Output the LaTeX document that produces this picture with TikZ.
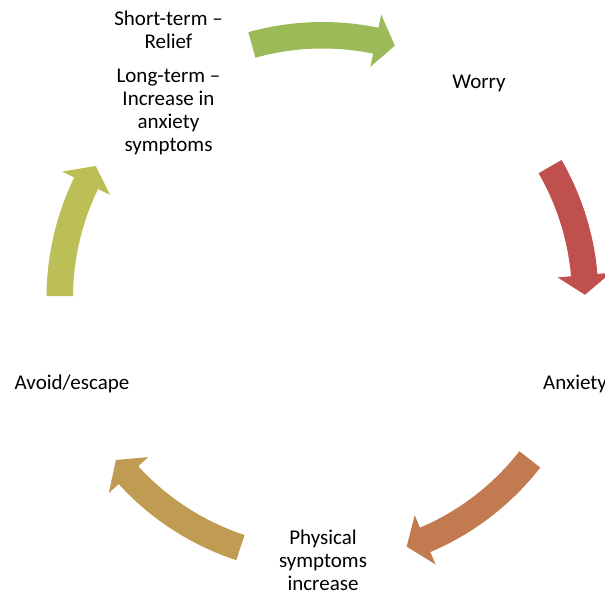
\documentclass[tikz,border=0pt]{standalone}
\usepackage{fontspec}
\setmainfont{Carlito}

\definecolor{arrRed}{HTML}{C0504D}
\definecolor{arrOrange}{HTML}{C27B50}
\definecolor{arrGold}{HTML}{BF9C52}
\definecolor{arrOlive}{HTML}{BCBE56}
\definecolor{arrGreen}{HTML}{9BBB59}

% curved block arrow around the hub: colour, tail angle, tip angle (clockwise)
\newcommand\cyclearrow[3]{%
  \fill[#1] (#2:276) arc[start angle=#2, end angle={#3+4.3}, radius=276]
    -- ({#3+4.3}:289.5) -- (#3:262.5) -- ({#3+4.3}:236)
    -- ({#3+4.3}:249.5) arc[start angle={#3+4.3}, end angle=#2, radius=249.5]
    -- cycle;}

\tikzset{
  lbl/.style={font=\fontsize{21}{23}\selectfont, align=center, inner sep=0pt, anchor=base, text=black}
}

\begin{document}
\begin{tikzpicture}[x=1pt, y=1pt]
  \useasboundingbox (0,0) rectangle (605,593);
  \clip (0,0) rectangle (605,593);
  \coordinate (hub) at (322.5,295);

  \begin{scope}[shift={(hub)}]
    \cyclearrow{arrRed}{30}{0.7}
    \cyclearrow{arrOrange}{-37.9}{-71.3}
    \cyclearrow{arrGold}{-108.2}{-141.9}
    \cyclearrow{arrOlive}{179.6}{149.8}
    \cyclearrow{arrGreen}{105.6}{74}
  \end{scope}

  % multi-line labels are placed by the baseline of their last line
  \node[lbl] (worry) at (479,504) {Worry};
  \node[lbl, anchor=base west] (anxiety) at (543,203) {Anxiety};
  \node[lbl] (physical) at (323,2.5) {Physical\\symptoms\\increase};
  \node[lbl] (avoid) at (72,203) {Avoid/escape};
  \node[lbl] (outcome) at (168.5,441) {Short-term –\\Relief\\[11pt]Long-term –\\Increase in\\anxiety\\symptoms};
\end{tikzpicture}
\end{document}
